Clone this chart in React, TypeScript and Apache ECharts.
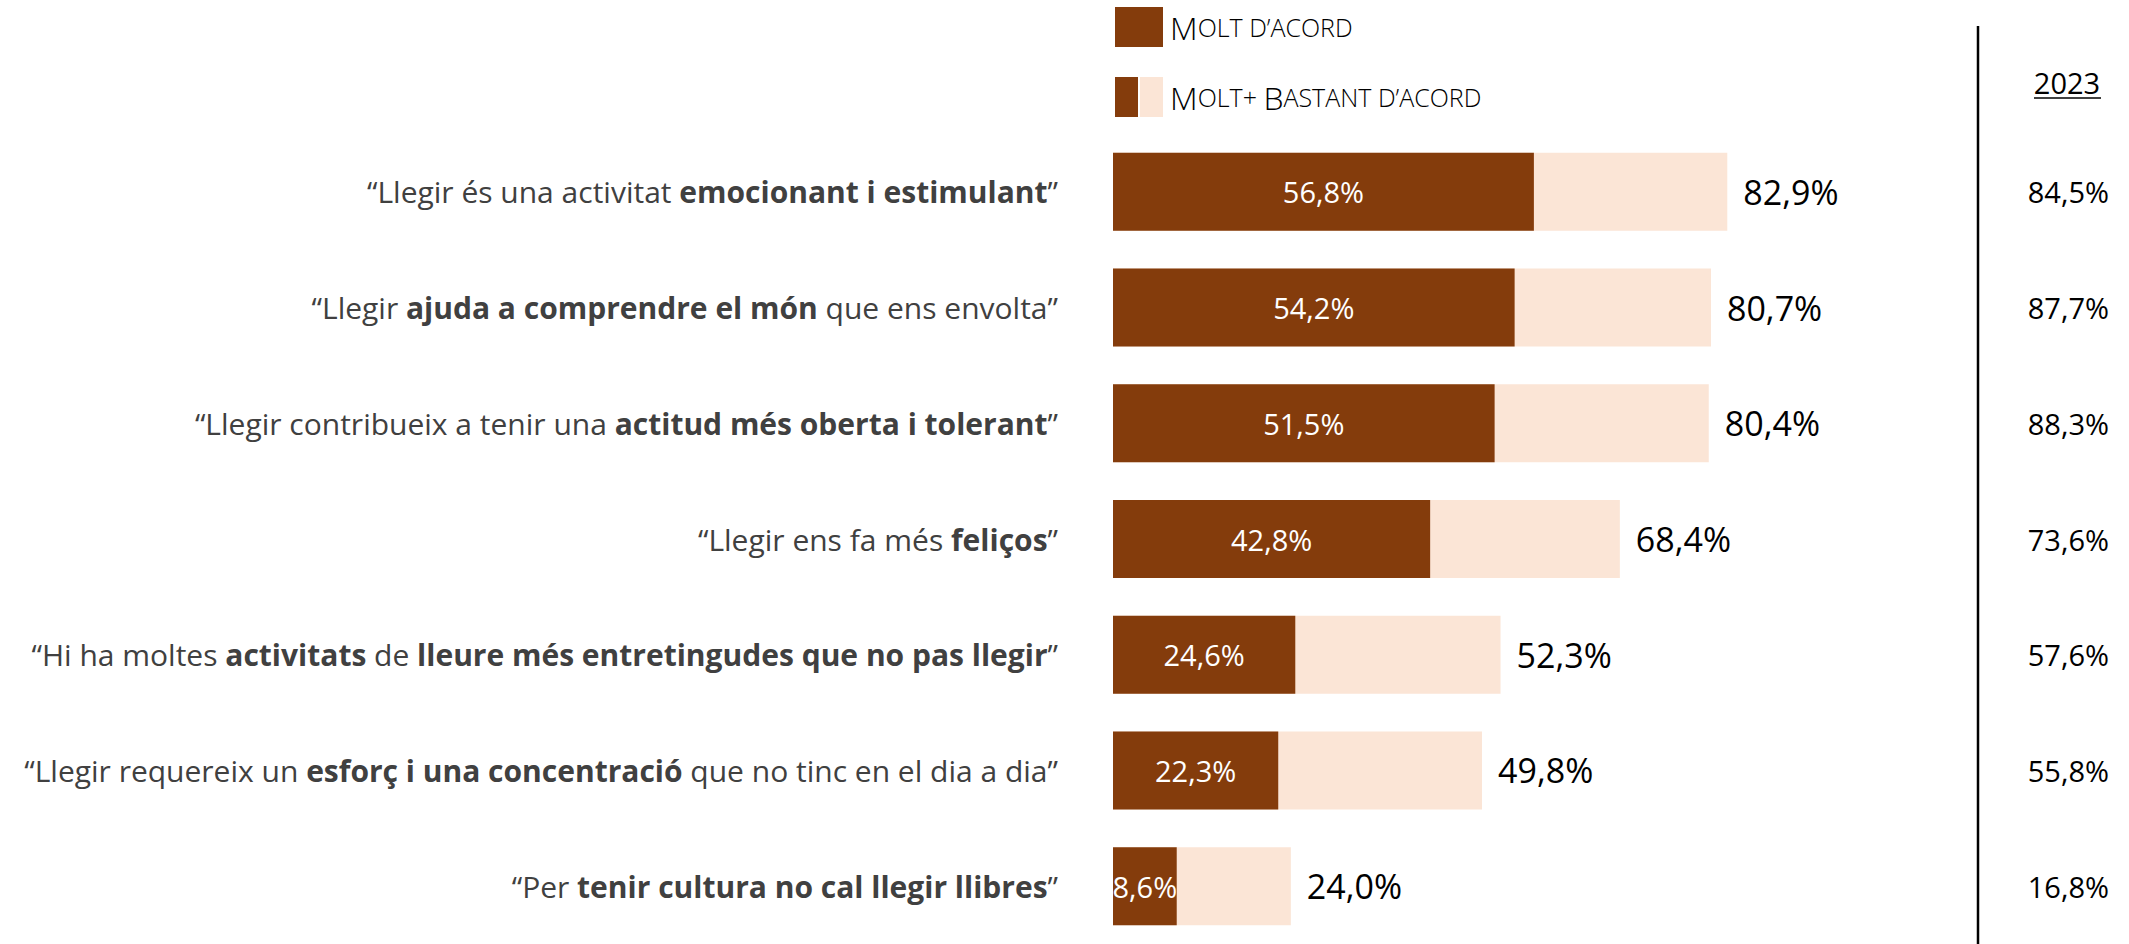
import React, { useEffect, useRef } from "react";
import * as echarts from "echarts";

const statements = [
  "“Llegir és una activitat **emocionant i estimulant**”",
  "“Llegir **ajuda a comprendre el món** que ens envolta”",
  "“Llegir contribueix a tenir una **actitud més oberta i tolerant**”",
  "“Llegir ens fa més **feliços**”",
  "“Hi ha moltes **activitats** de **lleure més entretingudes que no pas llegir**”",
  "“Llegir requereix un **esforç i una concentració** que no tinc en el dia a dia”",
  "“Per **tenir cultura no cal llegir llibres**”",
];
const moltAcord = [56.8, 54.2, 51.5, 42.8, 24.6, 22.3, 8.6];
const moltBastant = [82.9, 80.7, 80.4, 68.4, 52.3, 49.8, 24.0];
const prev2023 = [84.5, 87.7, 88.3, 73.6, 57.6, 55.8, 16.8];
const prevYearLabel = "2023";
const legendNames = ["Molt d’acord", "Molt+ Bastant d’acord"];

const DARK = "#843C0C";
const LIGHT = "#FBE5D6";
const FONT = "'Open Sans', sans-serif";

const fmt = (v: number) => v.toFixed(1).replace(".", ",") + "%";

const toRich = (s: string) =>
  s
    .split("**")
    .map((part, i) => (part ? `{${i % 2 ? "b" : "r"}|${part}}` : ""))
    .join("");

const toSmallCaps = (s: string) => {
  let out = "";
  let i = 0;
  while (i < s.length) {
    const ch = s[i];
    const isUp = ch !== ch.toLowerCase() && ch === ch.toUpperCase();
    let j = i;
    while (j < s.length) {
      const c = s[j];
      const u = c !== c.toLowerCase() && c === c.toUpperCase();
      if (u !== isUp) break;
      j++;
    }
    const run = s.slice(i, j);
    out += isUp ? `{cap|${run}}` : `{sc|${run.toUpperCase()}}`;
    i = j;
  }
  return out;
};

export default function App() {
  const ref = useRef<HTMLDivElement>(null);
  useEffect(() => {
    if (!ref.current) return;
    const chart = echarts.init(ref.current, undefined, { renderer: "svg" });
    const legendRich = {
      cap: { fontSize: 32, color: "#595959", fontFamily: FONT, fontWeight: 300 },
      sc: { fontSize: 25, color: "#595959", fontFamily: FONT, fontWeight: 300 },
    };
    chart.setOption({
      animation: false,
      backgroundColor: "#ffffff",
      textStyle: { fontFamily: FONT },
      grid: { left: 1113, right: 275, top: 134, bottom: 0 },
      xAxis: {
        type: "value",
        min: 0,
        max: 100,
        show: false,
      },
      yAxis: [
        {
          type: "category",
          inverse: true,
          data: statements,
          axisLine: { show: false },
          axisTick: { show: false },
          axisLabel: {
            margin: 55,
            align: "right",
            formatter: (v: string) => toRich(v),
            rich: {
              r: { fontSize: 30, color: "#404040", fontFamily: FONT },
              b: { fontSize: 30, color: "#404040", fontWeight: "bold", fontFamily: FONT },
            },
          },
        },
        {
          type: "category",
          inverse: true,
          position: "right",
          data: prev2023.map(fmt),
          axisLine: { show: false },
          axisTick: { show: false },
          axisLabel: {
            margin: 255,
            align: "right",
            fontSize: 29,
            color: "#000000",
            fontFamily: FONT,
          },
        },
      ],
      series: [
        {
          name: legendNames[1],
          type: "bar",
          yAxisIndex: 0,
          data: moltBastant,
          barWidth: 78,
          barGap: "-100%",
          itemStyle: { color: LIGHT },
          label: {
            show: true,
            position: "right",
            distance: 16,
            fontSize: 34,
            color: "#000000",
            fontFamily: FONT,
            formatter: (p: any) => fmt(p.value),
          },
        },
        {
          name: legendNames[0],
          type: "bar",
          yAxisIndex: 0,
          data: moltAcord,
          barWidth: 78,
          barGap: "-100%",
          itemStyle: { color: DARK },
          label: {
            show: true,
            position: "inside",
            fontSize: 29,
            color: "#ffffff",
            fontFamily: FONT,
            formatter: (p: any) => fmt(p.value),
          },
        },
      ],
      graphic: [
        {
          type: "line",
          shape: { x1: 1978, y1: 26, x2: 1978, y2: 944 },
          style: { stroke: "#000000", lineWidth: 2.5 },
        },
        {
          type: "text",
          x: 2067,
          y: 82,
          style: {
            text: prevYearLabel,
            fontSize: 29,
            fill: "#000000",
            fontFamily: FONT,
            align: "center",
            verticalAlign: "middle",
          },
        },
        {
          type: "line",
          shape: { x1: 2034, y1: 98, x2: 2101, y2: 98 },
          style: { stroke: "#000000", lineWidth: 1.5 },
        },
        {
          type: "rect",
          shape: { x: 1115, y: 7, width: 48, height: 40 },
          style: { fill: DARK },
        },
        {
          type: "rect",
          shape: { x: 1115, y: 77, width: 23, height: 40 },
          style: { fill: DARK },
        },
        {
          type: "rect",
          shape: { x: 1140, y: 77, width: 23, height: 40 },
          style: { fill: LIGHT },
        },
        {
          type: "text",
          x: 1170,
          y: 27,
          style: {
            text: toSmallCaps(legendNames[0]),
            rich: legendRich,
            verticalAlign: "middle",
            align: "left",
          },
        },
        {
          type: "text",
          x: 1170,
          y: 97,
          style: {
            text: toSmallCaps(legendNames[1]),
            rich: legendRich,
            verticalAlign: "middle",
            align: "left",
          },
        },
      ],
    });
    return () => chart.dispose();
  }, []);
  return (
    <div
      ref={ref}
      style={{ position: "absolute", left: 0, top: 0, width: 2129, height: 944 }}
    />
  );
}
